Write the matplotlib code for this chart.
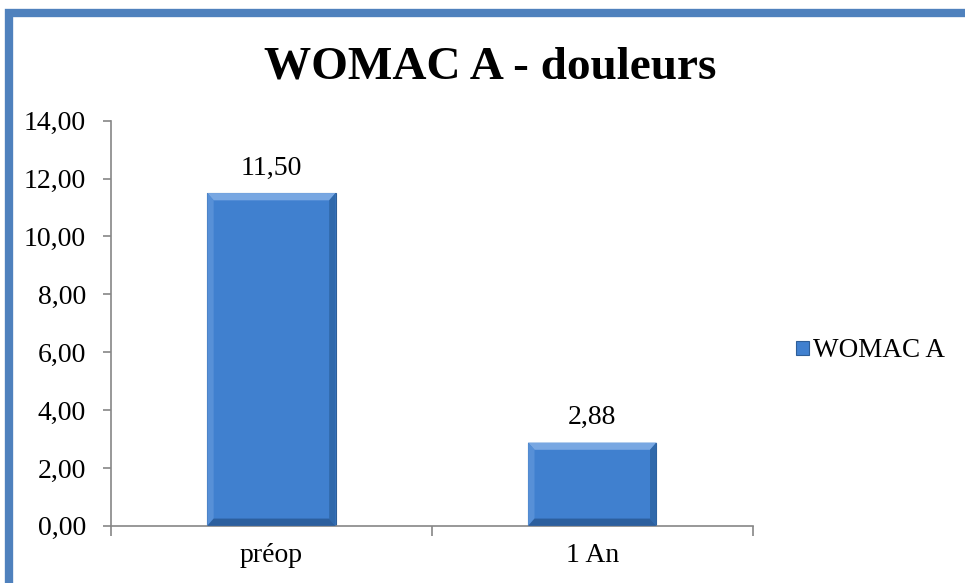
"""
WOMAC A - douleurs, bar chart préop vs 1 an
"""
import matplotlib.pyplot as plt
from matplotlib.patches import Rectangle, Polygon
from matplotlib.ticker import FuncFormatter, FixedLocator

categories = ["préop", "1 An"]
values = [11.50, 2.88]
series_name = "WOMAC A"
title = "WOMAC A - douleurs"
y_ticks = [0, 2, 4, 6, 8, 10, 12, 14]

plt.rcParams["font.family"] = ["Liberation Serif", "DejaVu Serif"]

fig = plt.figure(figsize=(9.65, 5.83), dpi=100)
ax = fig.add_axes([0.115, 0.098, 0.665, 0.695])

bar_color = "#4080cf"
bars = ax.bar(range(len(categories)), values, width=0.4, color=bar_color,
              edgecolor="#2e5e98", linewidth=0.8, label=series_name, zorder=2)

# bevel look: light top/left, dark right/bottom, built from each bar's box
for b in bars:
    x0, y0 = b.get_x(), b.get_y()
    x1, y1 = x0 + b.get_width(), y0 + b.get_height()
    dx = b.get_width() * 0.05
    dy = 14 * 0.018
    ax.add_patch(Polygon([(x0, y1), (x1, y1), (x1 - dx, y1 - dy), (x0 + dx, y1 - dy)],
                         closed=True, color="#78a7e2", lw=0, zorder=3))
    ax.add_patch(Polygon([(x0, y0), (x0, y1), (x0 + dx, y1 - dy), (x0 + dx, y0 + dy)],
                         closed=True, color="#5790d7", lw=0, zorder=3))
    ax.add_patch(Polygon([(x1, y0), (x1, y1), (x1 - dx, y1 - dy), (x1 - dx, y0 + dy)],
                         closed=True, color="#3069ab", lw=0, zorder=3))
    ax.add_patch(Polygon([(x0, y0), (x1, y0), (x1 - dx, y0 + dy), (x0 + dx, y0 + dy)],
                         closed=True, color="#2c5f9e", lw=0, zorder=3))
    ax.annotate(f"{b.get_height():.2f}".replace(".", ","),
                (b.get_x() + b.get_width() / 2, y1), xytext=(0, 9),
                textcoords="offset points", ha="center", va="bottom", fontsize=20)

ax.set_xlim(-0.5, len(categories) - 0.5)
ax.set_ylim(0, 14)
ax.set_yticks(y_ticks)
ax.yaxis.set_major_formatter(FuncFormatter(lambda v, p: f"{v:.2f}".replace(".", ",")))

ax.xaxis.set_major_locator(FixedLocator([i - 0.5 for i in range(len(categories) + 1)]))
ax.xaxis.set_minor_locator(FixedLocator(list(range(len(categories)))))
ax.set_xticklabels([], minor=False)
ax.set_xticklabels(categories, minor=True)
ax.tick_params(axis="x", which="major", length=7, color="#868686", width=1.2)
ax.tick_params(axis="x", which="minor", length=0, pad=12, labelsize=20)
ax.tick_params(axis="y", length=6, color="#868686", width=1.2, pad=12, labelsize=20)

for s in ["top", "right"]:
    ax.spines[s].set_visible(False)
for s in ["left", "bottom"]:
    ax.spines[s].set_color("#868686")
    ax.spines[s].set_linewidth(1.2)

fig.text(0.508, 0.884, title, ha="center", va="center", fontsize=34, fontweight="bold")

fig.legend(handles=[bars], labels=[series_name], loc="center left",
           bbox_to_anchor=(0.8, 0.398), frameon=False, fontsize=19.5,
           handlelength=0.45, handleheight=0.45, handletextpad=0.15)

# blue frame around the chart area (right and bottom edges fall outside the image)
fig.patches.append(Rectangle((9 / 965, -0.05), 1.2, 1 - 13 / 583 + 0.05,
                             transform=fig.transFigure, fill=False,
                             edgecolor="#4f81bd", linewidth=6))

fig.savefig("out.png", dpi=100)
